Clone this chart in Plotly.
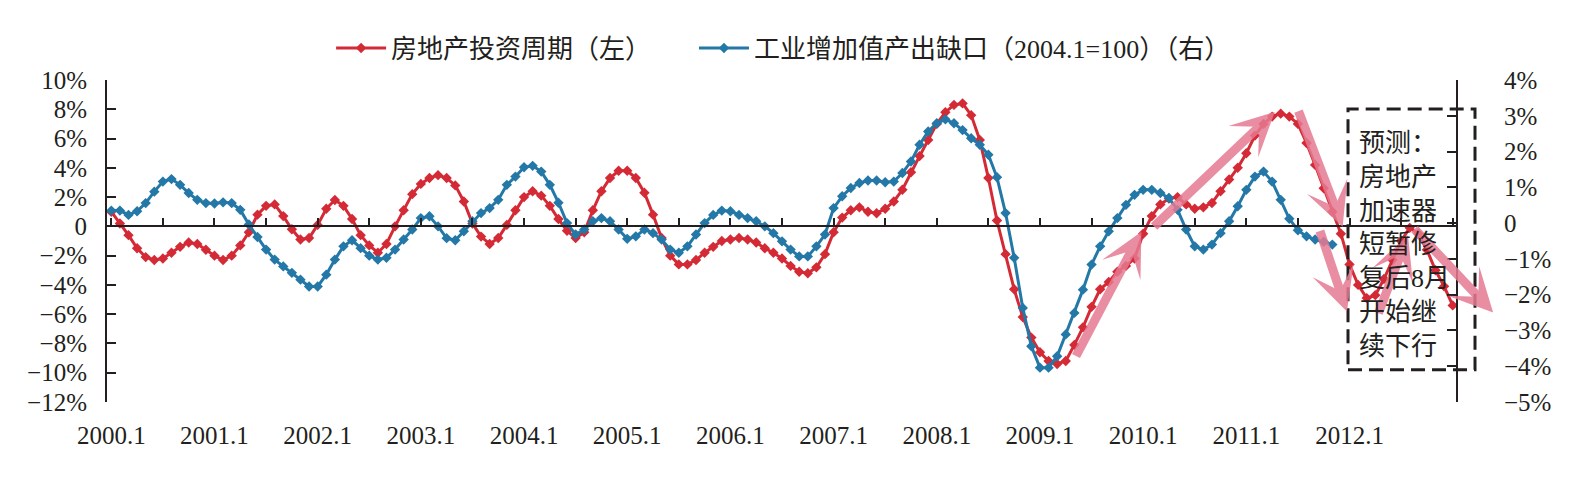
import plotly.graph_objects as go

# ---------------- data ----------------
months = [f"{2000 + k // 12}.{k % 12 + 1}" for k in range(157)]
xtick_labels = ["2000.1", "2001.1", "2002.1", "2003.1", "2004.1", "2005.1", "2006.1",
                "2007.1", "2008.1", "2009.1", "2010.1", "2011.1", "2012.1"]

real_estate = [
    1.0, 0.2, -0.6, -1.5, -2.1, -2.3, -2.2, -1.8, -1.4, -1.1, -1.2, -1.6,
    -2.0, -2.3, -2.0, -1.3, -0.4, 0.8, 1.4, 1.5, 0.7, -0.2, -0.9, -0.8,
    0.1, 1.2, 1.8, 1.4, 0.5, -0.6, -1.3, -1.8, -1.2, 0.0, 1.1, 2.2,
    2.9, 3.3, 3.5, 3.3, 2.8, 1.7, 0.2, -0.7, -1.2, -0.8, 0.1, 1.1,
    2.0, 2.4, 2.1, 1.4, 0.5, -0.3, -0.8, -0.4, 1.1, 2.4, 3.3, 3.8,
    3.8, 3.3, 2.3, 0.8, -0.8, -2.0, -2.6, -2.6, -2.3, -1.8, -1.4, -1.0,
    -0.9, -0.8, -0.9, -1.1, -1.5, -1.8, -2.2, -2.7, -3.1, -3.2, -2.8, -1.9,
    -0.4, 0.6, 1.1, 1.3, 1.0, 0.9, 1.2, 1.7, 2.5, 3.7, 4.8, 5.9,
    7.0, 7.8, 8.3, 8.4, 7.6, 5.9, 3.3, 0.4, -1.9, -4.3, -6.2, -7.6,
    -8.6, -9.2, -9.4, -9.2, -8.1, -6.9, -5.5, -4.3, -3.8, -3.1, -2.7, -2.2,
    -0.5, 0.7, 1.5, 1.9, 2.0, 1.5, 1.2, 1.3, 1.6, 2.4, 3.2, 4.0,
    5.0, 6.2, 7.0, 7.5, 7.7, 7.5, 7.0, 5.7, 4.2, 2.6, 1.0, -0.5,
    -2.6, -4.0, -4.9, -4.7, -3.6, -2.3, -1.0, -0.1, -0.5, -1.6, -3.0, -4.1,
    -5.4,
]

industry_gap = [
    0.35, 0.35, 0.23, 0.33, 0.56, 0.88, 1.16, 1.23, 1.07, 0.84, 0.65, 0.56,
    0.55, 0.58, 0.56, 0.37, -0.04, -0.39, -0.74, -1.02, -1.21, -1.39, -1.58, -1.77,
    -1.77, -1.44, -1.02, -0.65, -0.48, -0.70, -0.91, -1.02, -0.97, -0.74, -0.46, -0.18,
    0.14, 0.19, -0.09, -0.42, -0.48, -0.23, 0.05, 0.28, 0.42, 0.65, 1.07, 1.30,
    1.56, 1.60, 1.44, 1.07, 0.57, 0.00, -0.32, -0.18, 0.05, 0.14, 0.05, -0.18,
    -0.44, -0.37, -0.18, -0.28, -0.46, -0.74, -0.83, -0.65, -0.32, 0.00, 0.23, 0.35,
    0.33, 0.23, 0.14, 0.05, -0.09, -0.28, -0.51, -0.74, -0.93, -0.93, -0.65, -0.32,
    0.42, 0.75, 0.98, 1.12, 1.19, 1.19, 1.14, 1.16, 1.40, 1.72, 2.19, 2.56,
    2.79, 2.90, 2.79, 2.60, 2.37, 2.19, 1.91, 1.28, 0.28, -0.97, -2.37, -3.44,
    -4.04, -4.04, -3.72, -3.11, -2.51, -1.86, -1.16, -0.65, -0.23, 0.14, 0.51, 0.79,
    0.93, 0.93, 0.84, 0.70, 0.37, -0.18, -0.65, -0.74, -0.60, -0.28, 0.05, 0.47,
    0.93, 1.30, 1.44, 1.16, 0.65, 0.12, -0.20, -0.37, -0.46, -0.52, -0.60,
]

left_ticks = [10, 8, 6, 4, 2, 0, -2, -4, -6, -8, -10, -12]
right_ticks = [4, 3, 2, 1, 0, -1, -2, -3, -4, -5]

series_names = ["房地产投资周期（左）", "工业增加值产出缺口（2004.1=100）（右）"]
note_lines = ["预测：", "房地产", "加速器", "短暂修", "复后8月", "开始继", "续下行"]

# forecast arrows: (tail month index, tail %left, head month index, head %left)
arrows = [
    (112.1, -8.95, 119.8, -0.36),
    (121.1, -0.09, 135.3, 7.82),
    (138.0, 7.96, 143.2, -0.02),
    (140.5, -0.22, 143.7, -5.81),
    (147.3, -6.03, 150.8, -0.60),
    (151.4, -0.09, 160.7, -5.88),
]

# ---------------- style ----------------
W, H = 1586, 477
L, R, T, B = 107, 129, 80, 74.6
PW, PH = W - L - R, H - T - B
RED = "#D42A36"
BLUE = "#2378A7"
PINK = "rgba(230,122,146,0.85)"
INK = "#231F20"
SERIF = "Liberation Serif, 'Times New Roman', serif"
MIXED = "Liberation Serif, 'Noto Sans CJK SC', serif"

LMIN, LMAX = -12, 10
RMIN, RMAX = -5, 4
idx = list(range(len(months)))


def pct(v):
    if v == 0:
        return "0"
    return f"\u2212{abs(v)}%" if v < 0 else f"{v}%"


def px_x(i):
    return (i + 0.5) / len(months)


def px_y(v):
    return (v - LMIN) / (LMAX - LMIN)


fig = go.Figure()
fig.add_trace(go.Scatter(
    x=idx[:len(real_estate)], y=real_estate, name=series_names[0],
    mode="lines+markers", line=dict(color=RED, width=3),
    marker=dict(symbol="diamond", size=8, color=RED),
    xaxis="x", yaxis="y", legend="legend"))
fig.add_trace(go.Scatter(
    x=idx[:len(industry_gap)], y=industry_gap, name=series_names[1],
    mode="lines+markers", line=dict(color=BLUE, width=3),
    marker=dict(symbol="diamond", size=8, color=BLUE),
    xaxis="x2", yaxis="y2", legend="legend2"))

zero_pos = (0 - LMIN) / (LMAX - LMIN)
rng = [-0.5, len(months) - 0.5]
legend_style = dict(orientation="h", xanchor="left", y=1.099, yanchor="middle",
                    font=dict(family=MIXED, size=26, color=INK),
                    bgcolor="rgba(0,0,0,0)", itemwidth=50)

fig.update_layout(
    width=W, height=H,
    margin=dict(l=L, r=R, t=T, b=B, pad=0),
    paper_bgcolor="white", plot_bgcolor="white",
    showlegend=True,
    legend=dict(x=0.166, **legend_style),
    legend2=dict(x=0.4348, **legend_style),
    xaxis=dict(range=rng, tickmode="array",
               tickvals=[idx[months.index(t)] for t in xtick_labels], ticktext=xtick_labels,
               showline=False, showgrid=False, zeroline=False, ticks="",
               tickfont=dict(family=SERIF, size=25, color=INK), ticklabelstandoff=16),
    xaxis2=dict(overlaying="x", anchor="free", position=zero_pos, range=rng,
                tickmode="array", tickvals=idx[::6], showticklabels=False,
                showline=True, linecolor=INK, linewidth=2,
                ticks="inside", ticklen=7, tickwidth=2, tickcolor=INK,
                showgrid=False, zeroline=False),
    yaxis=dict(range=[LMIN, LMAX], tickmode="array", tickvals=left_ticks,
               ticktext=[pct(v) for v in left_ticks],
               showline=True, linecolor=INK, linewidth=2,
               ticks="inside", ticklen=9, tickwidth=2, tickcolor=INK,
               showgrid=False, zeroline=False,
               tickfont=dict(family=SERIF, size=25, color=INK), ticklabelstandoff=13),
    yaxis2=dict(overlaying="y", side="right", anchor="free", position=1,
                range=[RMIN, RMAX], tickmode="array", tickvals=right_ticks,
                ticktext=[pct(v) for v in right_ticks],
                showline=True, linecolor=INK, linewidth=2,
                ticks="inside", ticklen=9, tickwidth=2, tickcolor=INK,
                showgrid=False, zeroline=False,
                tickfont=dict(family=SERIF, size=25, color=INK), ticklabelstandoff=41),
)

# dashed forecast box
fig.add_shape(type="rect", xref="paper", yref="paper",
              x0=(1348 - L) / PW, x1=(1475 - L) / PW,
              y0=(H - B - 370) / PH, y1=(H - B - 109) / PH,
              line=dict(color=INK, width=3, dash="14px,7px"), fillcolor="rgba(0,0,0,0)")

# arrows
for tx, ty, hx, hy in arrows:
    fig.add_annotation(xref="paper", yref="paper", x=px_x(hx), y=px_y(hy),
                       axref="pixel", ayref="pixel",
                       ax=(px_x(tx) - px_x(hx)) * PW, ay=-(px_y(ty) - px_y(hy)) * PH,
                       text="", showarrow=True, arrowhead=3, arrowsize=0.8,
                       arrowwidth=9, arrowcolor=PINK, standoff=0)

fig.add_annotation(xref="paper", yref="paper", x=(1357 - L) / PW, y=(H - B - 245.5) / PH,
                   xanchor="left", yanchor="middle", align="left", showarrow=False,
                   text="<br>".join(note_lines),
                   font=dict(family=MIXED, size=26, color=INK))

fig.write_html("out.html")
